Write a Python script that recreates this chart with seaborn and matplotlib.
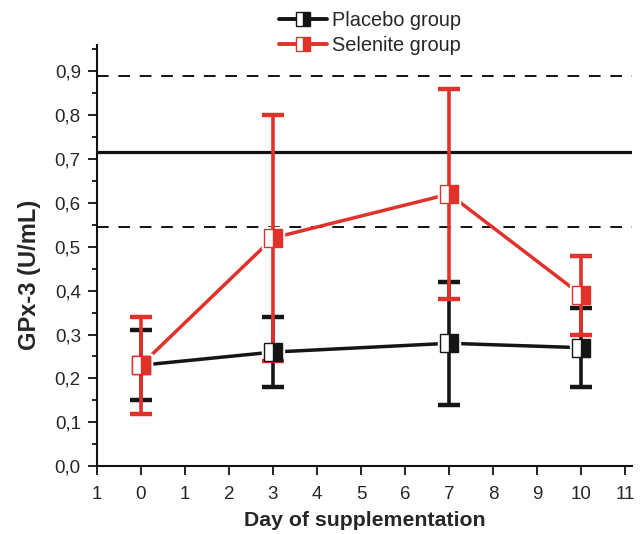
import pandas as pd
import seaborn as sns
from matplotlib import pyplot as plt
from matplotlib.ticker import MultipleLocator

days = [0, 3, 7, 10]
placebo_mean = [0.23, 0.26, 0.28, 0.27]
placebo_low = [0.15, 0.18, 0.14, 0.18]
placebo_high = [0.31, 0.34, 0.42, 0.36]
selenite_mean = [0.23, 0.52, 0.62, 0.39]
selenite_low = [0.12, 0.24, 0.38, 0.30]
selenite_high = [0.34, 0.80, 0.86, 0.48]
ref_solid = 0.715
ref_dashed = [0.89, 0.545]
x_ticks = list(range(-1, 12))
x_ticklabels = ['1'] + [str(d) for d in range(0, 12)]

sns.set_style('ticks')
plt.rcParams['font.family'] = ['Liberation Sans', 'DejaVu Sans']

fig = plt.figure(figsize=(6.41, 5.34), dpi=100)
ax = fig.add_axes([0.151, 0.127, 0.835, 0.789])

ax.axhline(ref_solid, color='#111111', lw=2.3, zorder=1)
for v in ref_dashed:
    ax.axhline(v, color='#111111', lw=1.4, ls=(0, (6, 5)), zorder=1)

groups = [
    ('Placebo group', '#151515', placebo_mean, placebo_low, placebo_high),
    ('Selenite group', '#e0312a', selenite_mean, selenite_low, selenite_high),
]

handles = []
for i, (name, col, mean, low, high) in enumerate(groups):
    df = pd.DataFrame({'day': days, 'value': mean})
    sns.lineplot(data=df, x='day', y='value', color=col, lw=2.5, ax=ax, zorder=2)
    # white halo so connecting lines stop short of the markers
    ax.plot(df['day'], df['value'], ls='none', marker='s', ms=16, color='white', zorder=3)
    yerr = [[m - l for m, l in zip(mean, low)], [h - m for m, h in zip(mean, high)]]
    ax.errorbar(days, mean, yerr=yerr, fmt='none', ecolor=col, elinewidth=2.6,
                capsize=8, capthick=3.2, zorder=4 + i)
    ax.plot(days, mean, ls='none', marker='s', ms=13, fillstyle='right', color=col,
            markerfacecoloralt='white', markeredgecolor=col, markeredgewidth=1.0, zorder=6 + i)
    h, = ax.plot([], [], color=col, lw=2.8, marker='s', ms=10, fillstyle='right',
                 markerfacecoloralt='white', markeredgecolor=col, markeredgewidth=1.0)
    handles.append(h)

ax.set_xlim(-1, 11.15)
ax.set_ylim(0, 0.96)
ax.set_xticks(x_ticks)
ax.set_xticklabels(x_ticklabels)
ax.yaxis.set_minor_locator(MultipleLocator(0.05))
ax.set_yticks([i / 10 for i in range(10)])
ax.set_yticklabels([f'{i / 10:.1f}'.replace('.', ',') for i in range(10)])
ax.tick_params(axis='both', which='major', direction='out', length=6.5, width=1.3,
               labelsize=13.5, color='#111111', pad=5)
ax.tick_params(axis='x', which='major', pad=7.5)
ax.tick_params(axis='y', which='minor', direction='out', length=3.5, width=1.3, color='#111111')
for s in ['left', 'bottom']:
    ax.spines[s].set_linewidth(1.5)
    ax.spines[s].set_color('#111111')
sns.despine(ax=ax)

ax.set_xlabel('Day of supplementation', fontsize=15.3, fontweight='bold', labelpad=6)
ax.set_ylabel('GPx-3 (U/mL)', fontsize=17, fontweight='bold')
ax.yaxis.set_label_coords(-0.104, 0.454)

fig.legend(handles, [g[0] for g in groups], loc='upper center', bbox_to_anchor=(0.577, 1.014),
           frameon=False, fontsize=14.4, handlelength=2.4, handletextpad=0.25, labelspacing=0.3)

fig.savefig('out.png', dpi=100)
